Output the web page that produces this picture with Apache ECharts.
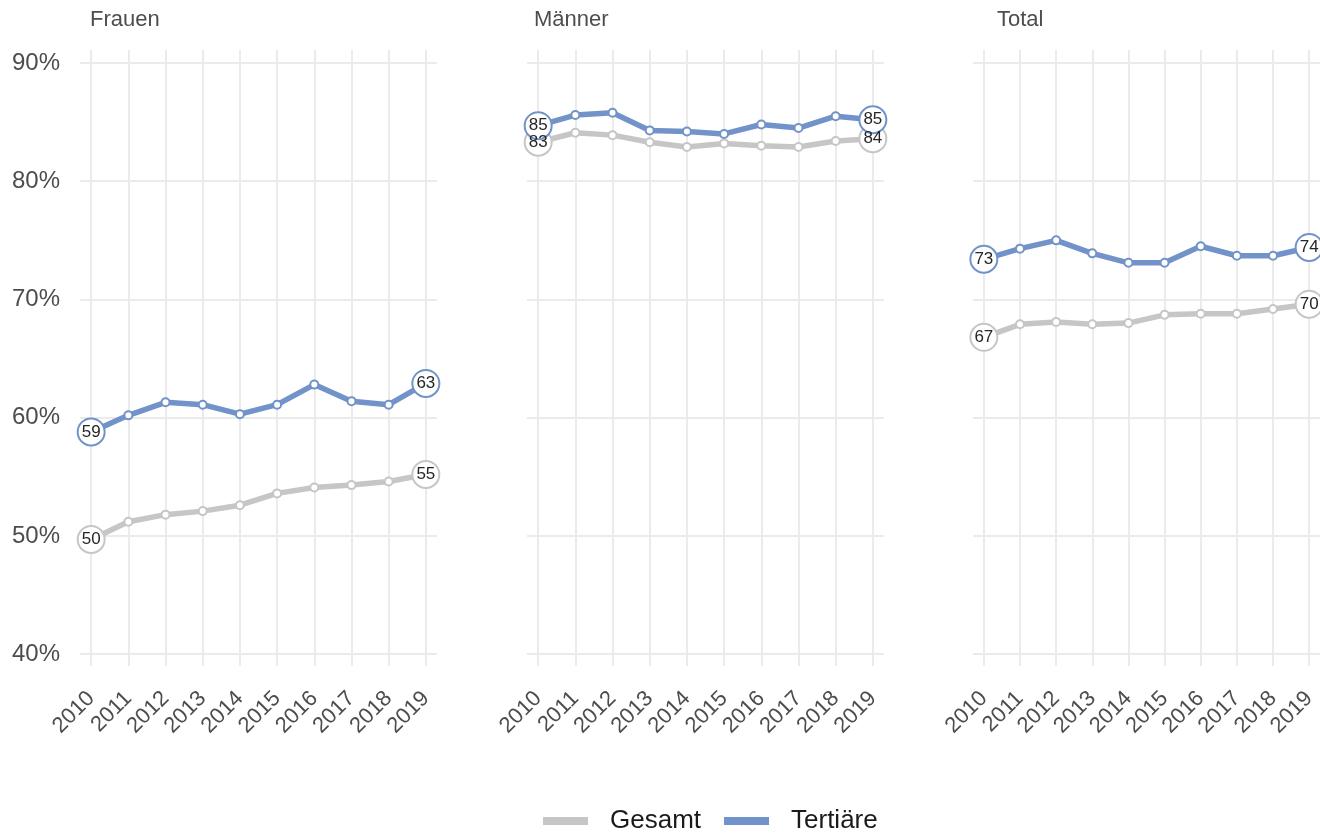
<!DOCTYPE html>
<html>
<head>
<meta charset="utf-8">
<script src="https://cdn.jsdelivr.net/npm/echarts@6/dist/echarts.min.js"></script>
<style>
html,body{margin:0;padding:0;background:#fff;}
#c{width:1320px;height:835px;}
</style>
</head>
<body>
<div id="c"></div>
<script>
// ---- data ----
const years = [2010, 2011, 2012, 2013, 2014, 2015, 2016, 2017, 2018, 2019];
const panels = ['Frauen', 'Männer', 'Total'];
const seriesNames = ['Gesamt', 'Tertiäre'];
const yTicks = [40, 50, 60, 70, 80, 90];

const frauenGesamt   = [49.7, 51.2, 51.8, 52.1, 52.6, 53.6, 54.1, 54.3, 54.6, 55.2];
const frauenTertiaer = [58.8, 60.2, 61.3, 61.1, 60.3, 61.1, 62.8, 61.4, 61.1, 62.9];
const maennerGesamt   = [83.3, 84.1, 83.9, 83.3, 82.9, 83.2, 83.0, 82.9, 83.4, 83.6];
const maennerTertiaer = [84.7, 85.6, 85.8, 84.3, 84.2, 84.0, 84.8, 84.5, 85.5, 85.2];
const totalGesamt   = [66.8, 67.9, 68.1, 67.9, 68.0, 68.7, 68.8, 68.8, 69.2, 69.6];
const totalTertiaer = [73.4, 74.3, 75.0, 73.9, 73.1, 73.1, 74.5, 73.7, 73.7, 74.4];

const panelData = [
  [frauenGesamt, frauenTertiaer],
  [maennerGesamt, maennerTertiaer],
  [totalGesamt, totalTertiaer]
];

// ---- styles ----
const colors = ['#c6c6c6', '#7293c9'];
const FONT = '"Liberation Sans", Arial, Helvetica, sans-serif';
const gridLefts = [80, 527, 973];
const titleLefts = [85, 529, 992];
const gridW = 357, gridTop = 50, gridH = 616;

const grids = [], xAxes = [], yAxes = [], series = [], titles = [];
panels.forEach((p, gi) => {
  grids.push({ left: gridLefts[gi], top: gridTop, width: gridW, height: gridH, containLabel: false });
  titles.push({ text: p, left: titleLefts[gi], top: 4,
    textStyle: { fontFamily: FONT, fontSize: 22, fontWeight: 'normal', color: '#4d4d4d' } });
  xAxes.push({
    type: 'value', gridIndex: gi, min: 2009.7, max: 2019.3,
    axisLine: { show: false },
    axisTick: { show: false, customValues: years },
    axisLabel: { customValues: years, rotate: 45, margin: 29, fontFamily: FONT, fontSize: 22, color: '#4d4d4d',
      formatter: v => String(v) },
    splitLine: { show: true, lineStyle: { color: '#ebebeb', width: 2 } }
  });
  yAxes.push({
    type: 'value', gridIndex: gi, min: 39.0, max: 91.1,
    axisLine: { show: false },
    axisTick: { show: false, customValues: yTicks },
    axisLabel: { show: gi === 0, customValues: yTicks, margin: 20, fontFamily: FONT, fontSize: 24, color: '#4d4d4d',
      formatter: v => v + '%' },
    splitLine: { show: true, lineStyle: { color: '#ebebeb', width: 2 } }
  });
  panelData[gi].forEach((vals, si) => {
    const last = vals.length - 1;
    series.push({
      name: seriesNames[si],
      type: 'line',
      xAxisIndex: gi, yAxisIndex: gi,
      z: 2 + si,
      symbol: 'emptyCircle',
      symbolSize: 8,
      lineStyle: { color: colors[si], width: 5.5 },
      itemStyle: { color: colors[si], borderColor: colors[si], borderWidth: 1.5 },
      emphasis: { disabled: true },
      animation: false,
      data: vals.map((v, i) => {
        const item = { value: [years[i], v] };
        if (i === 0 || i === last) item.symbolSize = 27;
        return item;
      })
    });
  });
  // label layer on top of all symbols
  panelData[gi].forEach((vals, si) => {
    const last = vals.length - 1;
    series.push({
      name: 'lbl' + gi + si,
      type: 'scatter',
      xAxisIndex: gi, yAxisIndex: gi,
      z: 10,
      symbolSize: 1,
      itemStyle: { color: 'rgba(0,0,0,0)', opacity: 1 },
      emphasis: { disabled: true },
      silent: true,
      animation: false,
      label: { show: true, position: 'inside', formatter: d => String(Math.round(d.value[1])),
        fontFamily: FONT, fontSize: 17, color: '#262626', opacity: 1 },
      data: [[years[0], vals[0]], [years[last], vals[last]]]
    });
  });
});

const chart = echarts.init(document.getElementById('c'), null, { renderer: 'canvas' });
chart.setOption({
  backgroundColor: '#ffffff',
  animation: false,
  title: titles,
  grid: grids,
  xAxis: xAxes,
  yAxis: yAxes,
  legend: {
    left: 538, top: 803,
    icon: 'rect', itemWidth: 43, itemHeight: 6, itemGap: 23,
    data: seriesNames.map((n, i) => ({ name: n, itemStyle: { color: colors[i] } })),
    textStyle: { fontFamily: FONT, fontSize: 26, color: '#1a1a1a', padding: [0, 0, 0, 18] },
    selectedMode: false
  },
  series: series
});
</script>
</body>
</html>
